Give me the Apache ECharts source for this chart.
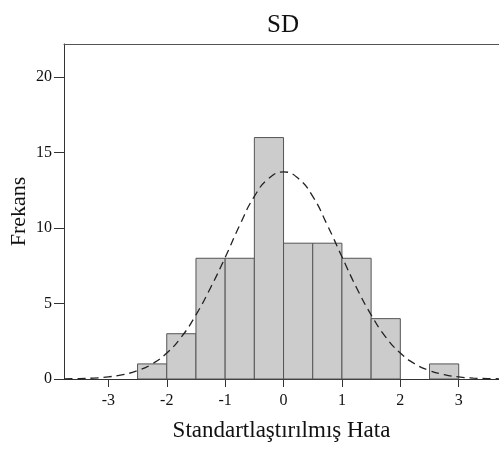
<!DOCTYPE html>
<html>
<head>
<meta charset="utf-8">
<script src="https://cdn.jsdelivr.net/npm/echarts@6/dist/echarts.min.js"></script>
<style>
  html, body { margin: 0; padding: 0; background: #fff; }
  #chart { width: 499px; height: 452px; }
</style>
</head>
<body>
<div id="chart"></div>
<script>
// Histogram of standardized residuals (bin width 0.5) with a fitted normal curve
const binStarts = [-2.5, -2.0, -1.5, -1.0, -0.5, 0.0, 0.5, 1.0, 1.5, 2.0, 2.5];
const binCounts = [1, 3, 8, 8, 16, 9, 9, 8, 4, 0, 1];
const binWidth = 0.5;

// Normal curve heights (frequency scale)
const curveX = [-3.75, -3.5, -3.25, -3.0, -2.75, -2.5, -2.25, -2.0, -1.75, -1.5, -1.25, -1.0, -0.75, -0.5, -0.25,
                0.0, 0.25, 0.5, 0.75, 1.0, 1.25, 1.5, 1.75, 2.0, 2.25, 2.5, 2.75, 3.0, 3.25, 3.5, 3.75];
const curveY = [0.01, 0.03, 0.06, 0.14, 0.29, 0.56, 1.0, 1.72, 2.78, 4.25, 6.05, 8.05, 10.2, 12.1, 13.3,
                13.72, 13.3, 12.1, 10.2, 8.1, 6.05, 4.25, 2.78, 1.72, 1.0, 0.56, 0.29, 0.14, 0.06, 0.03, 0.01];

const xTicks = [-3, -2, -1, 0, 1, 2, 3];
const yTicks = [0, 5, 10, 15, 20];

const serif = 'Liberation Serif';
const axisColor = '#333';

const chart = echarts.init(document.getElementById('chart'), null, { renderer: 'canvas' });

chart.setOption({
  animation: false,
  backgroundColor: '#fff',
  title: {
    text: 'SD',
    left: 278,
    textAlign: 'center',
    top: 8,
    textStyle: { fontFamily: serif, fontSize: 25, fontWeight: 'normal', color: '#111' }
  },
  grid: { left: 64, right: 0, top: 44, bottom: 73, containLabel: false, outerBoundsMode: 'none' },
  xAxis: [
    {
      type: 'value',
      min: -3.76,
      max: 3.69,
      name: 'Standartlaştırılmış Hata',
      nameLocation: 'middle',
      nameGap: 40,
      nameMoveOverlap: false,
      nameTextStyle: { fontFamily: serif, fontSize: 23, color: '#111' },
      axisLine: { onZero: false, lineStyle: { color: axisColor, width: 1 } },
      axisTick: { show: true, customValues: xTicks, length: 8, lineStyle: { color: axisColor } },
      axisLabel: {
        customValues: xTicks,
        margin: 14,
        fontFamily: serif, fontSize: 16, color: '#111'
      },
      splitLine: { show: false }
    },
    {
      type: 'value',
      position: 'top',
      min: -3.76,
      max: 3.69,
      axisLine: { show: true, onZero: false, lineStyle: { color: '#555', width: 1 } },
      axisTick: { show: false },
      axisLabel: { show: false },
      splitLine: { show: false }
    }
  ],
  yAxis: {
    type: 'value',
    min: 0,
    max: 22.2,
    name: 'Frekans',
    nameLocation: 'middle',
    nameGap: 34,
    nameMoveOverlap: false,
    nameTextStyle: { fontFamily: serif, fontSize: 22, color: '#111' },
    axisLine: { show: true, onZero: false, lineStyle: { color: axisColor, width: 1 } },
    axisTick: { show: true, customValues: yTicks, length: 10, lineStyle: { color: axisColor } },
    axisLabel: {
      customValues: yTicks,
      margin: 12,
      fontFamily: serif, fontSize: 16, color: '#111'
    },
    splitLine: { show: false }
  },
  series: [
    {
      type: 'custom',
      xAxisIndex: 0,
      data: binStarts.map((s, i) => [s, binCounts[i]]),
      renderItem: function (params, api) {
        const start = api.value(0);
        const count = api.value(1);
        if (!count) return null;
        const p0 = api.coord([start, count]);
        const p1 = api.coord([start + binWidth, 0]);
        return {
          type: 'rect',
          shape: { x: p0[0], y: p0[1], width: p1[0] - p0[0], height: p1[1] - p0[1] },
          style: { fill: '#cccccc', stroke: '#555', lineWidth: 1 }
        };
      },
      z: 2
    },
    {
      type: 'line',
      xAxisIndex: 0,
      data: curveX.map((x, i) => [x, curveY[i]]),
      smooth: true,
      symbol: 'none',
      clip: true,
      lineStyle: { color: '#222', width: 1.3, type: [8, 5] },
      z: 3
    }
  ]
});
</script>
</body>
</html>
